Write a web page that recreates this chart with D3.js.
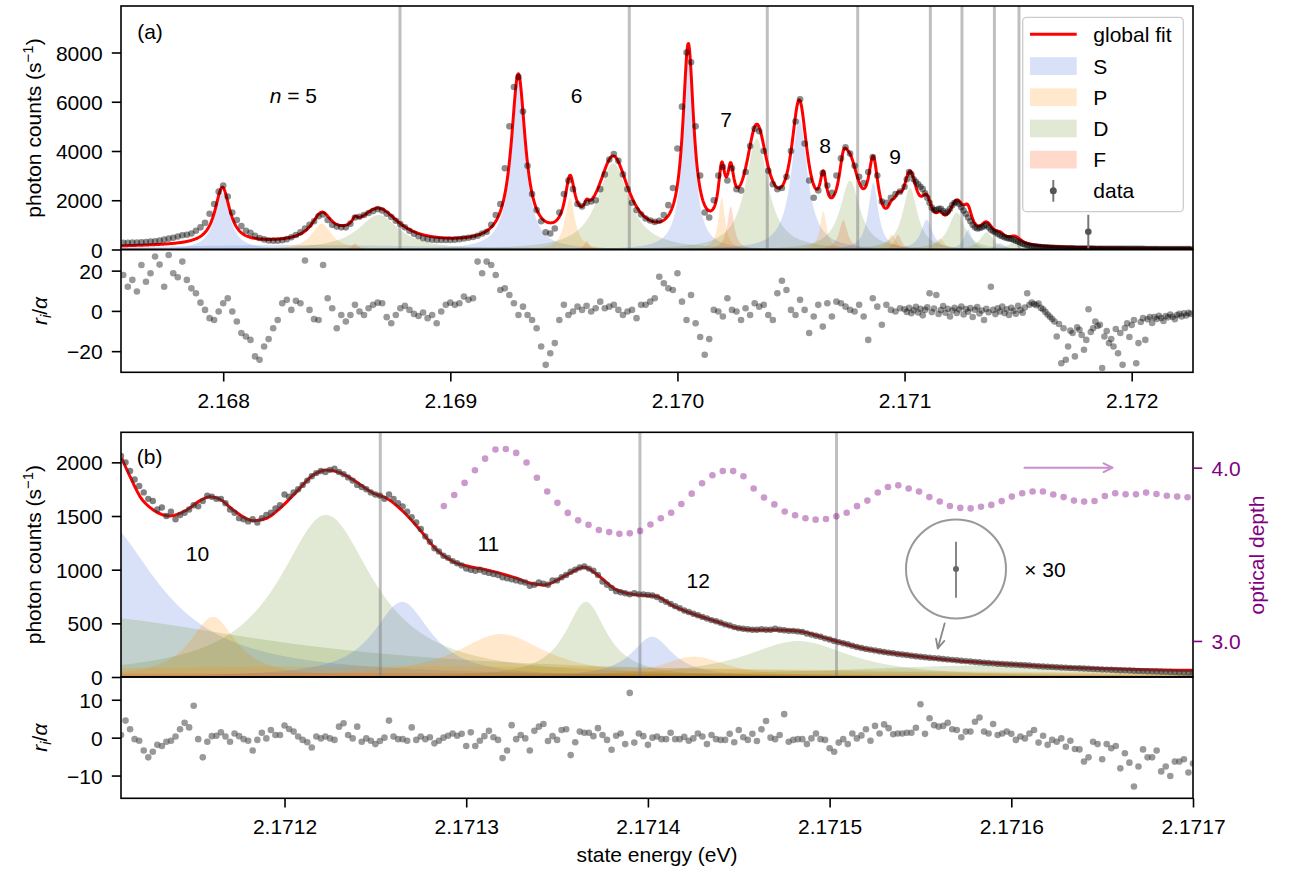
<!DOCTYPE html>
<html>
<head>
<meta charset="utf-8">
<script src="https://cdn.jsdelivr.net/npm/d3@7"></script>
<style>
body { margin: 0; background: #fff; }
</style>
</head>
<body>
<div id="chart"></div>
<script>
// ---------- panel (a): fitted peak components ----------
var compA_type = ["S","S","P","F","D", "S","P","F","D", "S","P","F","D", "S","P","F","D",
                  "S","P","F","D", "S","P","D", "S","D", "S","D"];
var compA_E = [2.1679963, 2.1683381, 2.1684337, 2.1685803, 2.1686838,
               2.1692993, 2.1695269, 2.1696005, 2.1697176,
               2.1700478, 2.1701949, 2.1702345, 2.1703490,
               2.1705366, 2.1706422, 2.1707303, 2.1707598,
               2.1708624, 2.1709434, 2.1709712, 2.1710240,
               2.1710975, 2.1711561, 2.1712296,
               2.1712793, 2.1713617,
               2.1714203, 2.1714863];
var compA_h = [2300, 180, 1050, 250, 1400,
               6800, 2100, 350, 3500,
               7800, 2100, 1750, 4500,
               5300, 1550, 1200, 2800,
               2700, 600, 600, 2500,
               1200, 450, 1500,
               800, 700,
               250, 300];
var compA_w = [3.963e-5, 8.806e-4, 5.284e-5, 1.541e-5, 1.1008e-4,
               3.743e-5, 2.642e-5, 1.321e-5, 8.366e-5,
               2.862e-5, 1.761e-5, 1.761e-5, 5.944e-5,
               4.315e-5, 1.761e-5, 2.201e-5, 5.284e-5,
               2.642e-5, 2.201e-5, 1.761e-5, 3.963e-5,
               3.082e-5, 2.201e-5, 4.403e-5,
               2.201e-5, 3.522e-5,
               2.642e-5, 3.522e-5];

// series limits (grey vertical lines)
var limitsE = [2.1687784, 2.169788, 2.1703956, 2.1707937, 2.1711136, 2.1712527, 2.1713956, 2.1715038];

// ---------- panel (a): measured data ----------
var dataA_E = [
 2.16756,2.16758,2.1676,2.16762,2.16764,2.16766,2.16768,2.1677,2.16772,2.16774,
 2.16776,2.16778,2.1678,2.16782,2.16784,2.16786,2.16788,2.1679,2.16792,2.16794,
 2.16796,2.16798,2.168,2.16802,2.16804,2.16806,2.16808,2.1681,2.16812,2.16814,
 2.16816,2.16818,2.1682,2.16822,2.16824,2.16826,2.16828,2.1683,2.16832,2.16834,
 2.16836,2.16838,2.1684,2.16842,2.16844,2.16846,2.16848,2.1685,2.16852,2.16854,
 2.16856,2.16858,2.1686,2.16862,2.16864,2.16866,2.16868,2.1687,2.16872,2.16874,
 2.16876,2.16878,2.1688,2.16882,2.16884,2.16886,2.16888,2.1689,2.16892,2.16894,
 2.16896,2.16898,2.169,2.16902,2.16904,2.16906,2.16908,2.1691,2.16912,2.16914,
 2.16916,2.16918,2.1692,2.16922,2.16924,2.16926,2.16928,2.1693,2.16932,2.16934,
 2.16936,2.16938,2.1694,2.16942,2.16944,2.16946,2.16948,2.1695,2.16952,2.16954,
 2.16956,2.16958,2.1696,2.16962,2.16964,2.16966,2.16968,2.1697,2.16972,2.16974,
 2.16976,2.16978,2.1698,2.16982,2.16984,2.16986,2.16988,2.1699,2.16992,2.16994,
 2.16996,2.16998,2.17,2.17002,2.17004,2.17006,2.17008,2.1701,2.17012,2.17014,
 2.17016,2.17018,2.1702,2.17022,2.17024,2.17026,2.17028,2.1703,2.17032,2.17034,
 2.17036,2.17038,2.1704,2.17042,2.17044,2.17046,2.17048,2.1705,2.17052,2.17054,
 2.17056,2.17058,2.1706,2.17062,2.17064,2.17066,2.17068,2.1707,2.17072,2.17074,
 2.17076,2.17078,2.1708,2.17082,2.17084,2.17086,2.17088,2.1709,2.17092,2.17094,
 2.17096,2.17098,
 2.171,2.17101,2.17102,2.17103,2.17104,2.17105,2.17106,2.17107,2.17108,2.17109,
 2.1711,2.17111,2.17112,2.17113,2.17114,2.17115,2.17116,2.17117,2.17118,2.17119,
 2.1712,2.17121,2.17122,2.17123,2.17124,2.17125,2.17126,2.17127,2.17128,2.17129,
 2.1713,2.17131,2.17132,2.17133,2.17134,2.17135,2.17136,2.17137,2.17138,2.17139,
 2.1714,2.17141,2.17142,2.17143,2.17144,2.17145,2.17146,2.17147,2.17148,2.17149,
 2.1715,2.17151,2.17152,2.17153,2.17154,2.17155,2.17156,2.17157,2.17158,2.17159,
 2.1716,2.17161,2.17162,2.17163,2.17164,2.17165,2.17166,2.17167,2.17168,2.17169,
 2.1717,2.17171,2.17172,2.17173,2.17174,2.17175,2.17176,2.17177,2.17178,2.17179,
 2.1718,2.17181,2.17182,2.17183,2.17184,2.17185,2.17186,2.17187,2.17188,2.17189,
 2.1719,2.17191,2.17192,2.17193,2.17194,2.17195,2.17196,2.17197,2.17198,2.17199,
 2.172,2.17201,2.17202,2.17203,2.17204,2.17205,2.17206,2.17207,2.17208,2.17209,
 2.1721,2.17211,2.17212,2.17213,2.17214,2.17215,2.17216,2.17217,2.17218,2.17219,
 2.1722,2.17221,2.17222,2.17223,2.17224,2.17225,2.17226];
var dataA_counts = [
 270,275,280,285,295,305,320,335,360,400,
 440,480,530,580,600,650,760,900,1080,1450,
 1850,2350,2600,2150,1500,1200,950,760,680,560,
 470,410,370,360,360,380,420,500,590,700,
 850,1000,1150,1350,1420,1200,1000,930,900,900,
 1050,1300,1330,1400,1480,1560,1640,1580,1450,1320,
 1170,1030,900,760,640,540,460,420,400,390,
 385,385,390,400,420,450,480,510,560,650,
 720,1000,1400,1850,3300,5000,6600,7000,5600,3400,
 2250,1600,1150,700,650,850,1500,2250,2800,2450,
 1850,1750,1900,1950,2000,2450,3050,3650,3880,3600,
 3050,2450,1900,1600,1420,1260,1180,1120,1170,1400,
 1800,2500,4100,5800,8000,7600,5000,3000,1500,1300,
 2000,3000,3350,2800,3300,2450,2400,3150,4200,4900,
 4800,4000,3200,2650,2450,2500,2950,4000,5200,6100,
 4300,2800,2100,2400,3100,2600,2300,3000,3700,4150,
 3900,3400,2950,2700,3150,3750,3000,1950,1900,2100,
 2250,2350,
 2550,2850,3150,3050,2850,2750,2650,2550,2450,2280,
 2100,1900,1700,1600,1600,1650,1650,1560,1480,1540,
 1650,1800,1900,1930,1850,1720,1580,1450,1300,1150,
 1000,900,850,870,900,950,990,900,800,740,
 700,640,580,540,500,470,450,425,400,360,
 320,275,230,200,170,155,140,128,115,108,
 100,92,85,80,75,70,66,62,58,55,
 52,50,48,46,44,42,40,39,38,37,
 36,35,35,34,33,33,32,32,31,31,
 30,30,29,29,28,28,27,27,26,26,
 25,25,25,24,24,24,23,23,23,22,
 22,22,22,21,21,21,21,20,20,20,
 20,20,19,19,19,19,18];
var residA = [
 17.8,12,15.4,9.6,22.8,14.5,18.7,27,23,12,
 27.8,18.7,16.7,24.5,15.4,11.2,8.8,4.1,0.5,-3.6,
 -4.5,-0.3,3.8,6.3,-0.3,-5.3,-11,-12.7,-14.4,-22.6,
 -24.3,-17.7,-14,-8.6,-4.5,3.8,5.5,0.5,5,3.8,
 25,0.5,-4.1,-4.5,22.8,6.3,1.3,-8.6,-2,-5.3,
 -2,3,-0.3,-2,1.3,3,4.1,3.8,-3.1,-6.1,
 -2,1.3,2.5,0.5,-1.5,-2.5,-0.8,-3.6,-2,-6.1,
 -0.3,3,4.1,3,3.8,7.1,5.5,6.3,24.5,18.7,
 24.5,22.8,17.8,10.4,11.2,7.9,3.8,-2,2.1,-2,
 -4.5,-8.6,-17.7,-26.8,-21,-16,-4.5,3,-2,-0.3,
 2.1,0.5,2.5,-0.3,1.3,4.6,1.3,2.1,3,0.5,
 -2,-0.3,0.5,-3.6,3,3,4.6,6.3,17,13.7,
 11.2,10.4,18.7,4.6,-4.5,7.9,-6.1,-13,-21.8,-14,
 0.5,-0.3,-2.8,6.3,0.5,-0.3,-4.5,1.3,-2,3.8,
 2.1,3,-2,-4.5,8.8,15,10.4,0.5,-2,5.5,
 0.5,-11,-2.8,3,-7.8,3.8,-2.8,4.6,3.8,2.1,
 0.5,-0.3,3,-2.8,-14.4,6.3,2.1,-6.9,3,0.5,
 -0.3,1.3,
 0.8,-0.5,1.5,-1.2,0.3,2.0,-0.8,1.0,-2.2,0.5,
 1.8,8.8,-0.6,1.2,7.9,-1.5,0.4,2.4,-0.9,1.1,
 -2.8,0.2,1.6,-1.0,0.7,2.2,-1.8,0.9,-0.4,1.4,
 -3.0,0.6,1.9,-1.3,0.2,-4.5,1.0,-0.7,12.0,0.5,
 -1.6,1.3,-0.3,2.1,-1.1,0.8,-2.0,1.5,0.1,-1.4,
 2.5,0.4,-0.9,1.7,8.8,3.0,4.2,3.4,2.8,3.6,
 1.5,0.8,-0.5,-1.8,-2.9,-4.0,-5.3,-12.7,-6.5,-26,
 -8.6,-24.3,-17.7,-9.8,-11,-22.6,-8.2,-9.4,-12,-19.3,
 -14.4,0.8,-10.5,-8.6,-5.3,-7.5,-6.9,-28.4,-12.7,-10,
 -16,-14,-17.7,-9,-21,-11,-26.8,-8.5,-6.1,-13,
 -7,-4.5,-26,-16,-5.5,-3.6,-14.4,-4.2,-3.0,-6.0,
 -3.1,-4.0,-2.4,-3.5,-5.0,-2.5,-3.2,-1.8,-2.9,-4.1,
 -2.0,-1.5,-2.8,-1.2,-2.3,-1.0,-1.5];
// one point drawn with its (large) error bar
var flagE = [2.171809], flagCounts = [720], flagErr = [690];

// ---------- panel (b): fitted components (fills) ----------
var compB_type = ["S","D","P","D","S","P","D","S","P","D","D","P","F"];
var compB_E = [2.1710973, 2.1710764, 2.1711606, 2.1712228, 2.1712647, 2.1713191,
               2.1713659, 2.1714023, 2.1714254, 2.1714826, 2.1715938, 2.1712636, 2.1712636];
var compB_h = [1490, 580, 560, 1510, 700, 400, 700, 375, 190, 335, 110, 100, 35];
var compB_w = [3.963e-5, 1.3759e-4, 1.541e-5, 3.192e-5, 1.926e-5, 3.027e-5,
               1.376e-5, 1.376e-5, 2.201e-5, 3.577e-5, 1.1008e-4, 3.302e-4, 4.403e-4];

// panel (b): global fit curve
var fitB_E = [2.1711104,2.171115,2.1711205,2.1711278,2.171137,2.1711462,2.1711535,2.171159,2.1711645,2.1711718,
              2.1711828,2.1711902,2.1711975,2.1712067,2.1712158,2.1712232,2.1712305,2.1712379,2.1712489,2.1712562,
              2.1712654,2.1712746,2.1712838,2.1712929,2.1713021,2.1713113,2.1713278,2.1713339,2.1713431,2.1713545,
              2.1713648,2.1713728,2.1713819,2.1713911,2.1714048,2.1714138,2.1714254,2.1714368,2.1714483,2.1714597,
              2.171471,2.1714826,2.171494,2.1715054,2.1715169,2.1715329,2.1715558,2.1715786,2.1716015,2.1716244,
              2.1716472,2.1716701,2.1716976,2.1717];
var fitB_counts = [2038,1866,1680,1556,1500,1556,1643,1680,1656,1556,
                   1456,1479,1572,1727,1882,1929,1904,1836,1712,1665,
                   1540,1370,1183,1074,1028,997,920,881,857,944,
                   1022,944,819,772,750,663,585,522,459,438,
                   438,428,381,325,272,225,178,141,116,94,
                   79,69,63,62];

// ---------- panel (b): measured data ----------
var dataB_E = [
 2.17111,2.1711125,2.171115,2.1711175, 2.17112,2.1711225,2.171125,2.1711275,
 2.17113,2.1711325,2.171135,2.1711375, 2.17114,2.1711425,2.171145,2.1711475,
 2.17115,2.1711525,2.171155,2.1711575, 2.17116,2.1711625,2.171165,2.1711675,
 2.17117,2.1711725,2.171175,2.1711775, 2.17118,2.1711825,2.171185,2.1711875,
 2.17119,2.1711925,2.171195,2.1711975, 2.1712,2.1712025,2.171205,2.1712075,
 2.17121,2.1712125,2.171215,2.1712175, 2.17122,2.1712225,2.171225,2.1712275,
 2.17123,2.1712325,2.171235,2.1712375, 2.17124,2.1712425,2.171245,2.1712475,
 2.17125,2.1712525,2.171255,2.1712575, 2.17126,2.1712625,2.171265,2.1712675,
 2.17127,2.1712725,2.171275,2.1712775, 2.17128,2.1712825,2.171285,2.1712875,
 2.17129,2.1712925,2.171295,2.1712975, 2.1713,2.1713025,2.171305,2.1713075,
 2.17131,2.1713125,2.171315,2.1713175, 2.17132,2.1713225,2.171325,2.1713275,
 2.17133,2.1713325,2.171335,2.1713375, 2.17134,2.1713425,2.171345,2.1713475,
 2.17135,2.1713525,2.171355,2.1713575, 2.17136,2.1713625,2.171365,2.1713675,
 2.17137,2.1713725,2.171375,2.1713775, 2.17138,2.1713825,2.171385,2.1713875,
 2.17139,2.1713925,2.171395,2.1713975, 2.1714,2.1714025,2.171405,2.1714075,
 2.17141,2.1714125,2.171415,2.1714175, 2.17142,2.1714225,2.171425,2.1714275,
 2.17143,2.1714325,2.171435,2.1714375, 2.17144,2.1714425,2.171445,2.1714475,
 2.17145,2.1714525,2.171455,2.1714575, 2.17146,2.1714625,2.171465,2.1714675,
 2.17147,2.1714725,2.171475,2.1714775, 2.17148,2.1714825,2.171485,2.1714875,
 2.17149,2.1714925,2.171495,2.1714975, 2.1715,2.1715025,2.171505,2.1715075,
 2.17151,2.1715125,2.171515,2.1715175, 2.17152,2.1715225,2.171525,2.1715275,
 2.17153,2.1715325,2.171535,2.1715375, 2.17154,2.1715425,2.171545,2.1715475,
 2.17155,2.1715525,2.171555,2.1715575, 2.17156,2.1715625,2.171565,2.1715675,
 2.17157,2.1715725,2.171575,2.1715775, 2.17158,2.1715825,2.171585,2.1715875,
 2.17159,2.1715925,2.171595,2.1715975, 2.1716,2.1716025,2.171605,2.1716075,
 2.17161,2.1716125,2.171615,2.1716175, 2.17162,2.1716225,2.171625,2.1716275,
 2.17163,2.1716325,2.171635,2.1716375, 2.17164,2.1716425,2.171645,2.1716475,
 2.17165,2.1716525,2.171655,2.1716575, 2.17166,2.1716625,2.171665,2.1716675,
 2.17167,2.1716725,2.171675,2.1716775, 2.17168,2.1716825,2.171685,2.1716875,
 2.17169,2.1716925,2.171695,2.1716975, 2.1717];
var dataB_counts = [
 2060,2000,1920,1840,1780,1720,1660,1640,1560,1580,
 1500,1540,1470,1510,1530,1560,1600,1590,1640,1690,
 1680,1660,1660,1620,1560,1530,1480,1470,1450,1470,
 1440,1480,1510,1530,1570,1600,1700,1680,1720,1750,
 1790,1830,1870,1900,1920,1910,1930,1940,1910,1890,
 1860,1830,1790,1770,1750,1720,1700,1690,1660,1700,
 1660,1620,1590,1540,1490,1440,1380,1310,1260,1200,
 1170,1130,1110,1080,1060,1040,1010,1000,990,1000,
 980,970,960,950,930,920,910,900,890,880,
 850,860,880,870,860,900,900,930,950,980,
 1000,1020,1030,1010,990,950,890,860,830,800,
 790,780,770,780,770,770,765,760,745,720,
 700,680,660,640,620,605,590,575,560,545,
 530,520,505,490,480,465,455,450,445,440,
 440,445,440,440,450,440,435,430,430,425,
 420,405,395,385,375,360,350,335,325,315,
 305,292,280,270,262,255,248,240,233,227,
 222,215,210,205,199,194,189,184,180,176,
 172,168,164,160,156,152,148,144,140,137,
 133,130,127,124,122,119,117,115,112,110,
 107,104,101,98,96,94,92,89,87,85,
 83,81,79,77,75,73,71,69,67,65,
 63,62,60,58,57,55,54,52,51,49,
 48,46,45,43,42,40,39];
var residB = [
 0.7,4.5,2.2,-0.4,-0.8,-3.4,-5.2,-3.7,-1.9,-2.2,
 -1.1,-0.8,0.3,2.2,3.9,2.7,8.4,-0.4,-5.2,-1.1,
 0.4,0.5,1.4,0.3,-1.1,1.1,0.4,-0.4,-0.8,-3.4,
 -0.6,1.3,-0.2,2,0.7,0.7,3.2,2.3,1.6,0.3,
 -0.6,-1.2,-2.6,0.3,-0.2,0.3,-0.2,-0.6,2.9,3.8,
 0.7,-0.2,2.9,-1.1,-0.2,-0.8,-1.7,-0.9,0,4.5,
 0.3,-0.4,-0.4,-0.8,2.7,-0.6,0.3,-0.4,0.1,-1.5,
 -0.8,0,0.5,1.1,0.5,1,-2.2,1.4,-2.2,-0.8,
 0.4,1.8,0.1,-0.6,-5.4,-3.4,3.3,-0.4,0.7,-0.2,
 -3.4,1.8,2.9,3.6,-0.9,0.4,-0.6,2,2.2,-4.6,
 -1.2,1.6,1.3,1.3,0.4,2.5,0.7,-0.6,-3.2,0.5,
 1.1,-1.7,11.8,-1.3,1.1,0.4,-1.9,0,0.3,-0.4,
 -0.4,1.3,-0.4,-0.4,0.2,-0.8,-0.2,1.1,0.3,-1.7,
 0.7,-0.4,-0.6,-0.6,1,-1.2,2,0.1,-0.6,1,
 -0.9,2.2,4.4,0,-0.4,0.7,6.2,-1.1,-0.6,-0.4,
 -0.4,-1.7,-0.2,1.1,-0.4,-0.6,-2.8,-3.7,-1.3,-0.4,
 -1.7,1.1,-0.2,0.6,2.2,-0.8,3.1,1.1,3.5,2.5,
 0.9,1.1,1.1,1.3,1.3,2.6,8.8,1,5.1,3.3,
 2.9,3.1,3.9,2.2,2,0.1,1.6,1.6,4.2,5.3,
 1.6,1.1,3.6,0.7,1.1,1.6,1,-0.6,0.3,-0.2,
 1.1,2,-1.3,0.5,-1.9,-0.6,-1.1,-0.2,-2.4,-0.8,
 -3,-3.1,-6.3,-5.2,-1.1,-1.7,-5.7,-1.7,-2.8,-2.2,
 -8.1,-4.1,-6.6,-12.9,-7.6,-3.1,-5.2,-5.2,-3.4,-8.9,
 -7.6,-10.1,-6.3,-6.3,-5.7,-9.2,-6.8];

// optical depth (right axis)
var odE = [
 2.1712877,2.1712934,2.1712991,2.1713048,2.1713104,2.1713161,2.1713218,2.1713275,2.1713332,2.1713389,
 2.1713446,2.1713502,2.1713559,2.1713616,2.1713673,2.171373,2.1713787,2.1713843,2.17139,2.1713957,
 2.1714014,2.1714071,2.1714128,2.1714184,2.1714241,2.1714298,2.1714355,2.1714412,2.1714469,2.1714526,
 2.1714582,2.1714639,2.1714696,2.1714753,2.171481,2.1714867,2.1714923,2.171498,2.1715037,2.1715094,
 2.1715151,2.1715208,2.1715265,2.1715321,2.1715378,2.1715435,2.1715492,2.1715549,2.1715606,2.1715662,
 2.1715719,2.1715776,2.1715833,2.171589,2.1715947,2.1716003,2.171606,2.1716117,2.1716174,2.1716231,
 2.1716288,2.1716345,2.1716401,2.1716458,2.1716515,2.1716572,2.1716629,2.1716686,2.1716742,2.1716799,
 2.1716856,2.1716913,2.171697];
var odVal = [
 3.779,3.842,3.912,3.985,4.052,4.105,4.108,4.085,4.030,3.942,
 3.862,3.797,3.739,3.696,3.670,3.640,3.628,3.618,3.621,3.635,
 3.672,3.708,3.740,3.790,3.850,3.910,3.956,3.981,3.980,3.950,
 3.880,3.828,3.788,3.747,3.725,3.708,3.700,3.704,3.719,3.740,
 3.778,3.810,3.857,3.888,3.898,3.880,3.862,3.830,3.805,3.779,
 3.768,3.765,3.774,3.785,3.807,3.833,3.852,3.862,3.862,3.845,
 3.830,3.810,3.804,3.808,3.836,3.852,3.846,3.846,3.856,3.848,
 3.838,3.833,3.829];

// axis ticks
var ticksA_x = [2.168, 2.169, 2.170, 2.171, 2.172];
var ticksA_y = [0, 2000, 4000, 6000, 8000];
var ticksA_r = [-20, 0, 20];
var ticksB_x = [2.1712, 2.1713, 2.1714, 2.1715, 2.1716, 2.1717];
var ticksB_y = [0, 500, 1000, 1500, 2000];
var ticksB_r = [-10, 0, 10];
var ticksB_od = [3.0, 4.0];

var legendNames = ["S", "P", "D", "F"];

document.addEventListener("DOMContentLoaded", function() {
    var FONT = '"Liberation Sans", Arial, Helvetica, sans-serif';
    var FS = 21;
    var X0 = 121, X1 = 1193;
    var colours = { S: "#4169e1", P: "#ff8c00", D: "#6b8e23", F: "#ff4500" };
    var purple = "#800080";

    var svg = d3.select("#chart").append("svg")
        .attr("width", 1295).attr("height", 872)
        .style("font-family", FONT);
    svg.append("rect").attr("width", 1295).attr("height", 872).attr("fill", "#fff");

    var xA = d3.scaleLinear().domain([2.16755, 2.17227]).range([X0, X1]);
    var yA = d3.scaleLinear().domain([0, 9888]).range([249.5, 6]);
    var rA = d3.scaleLinear().domain([-30.5, 30.5]).range([372.3, 249.5]);
    var xB = d3.scaleLinear().domain([2.17111, 2.1717]).range([X0, X1]);
    var yB = d3.scaleLinear().domain([0, 2280]).range([677, 432.3]);
    var odB = d3.scaleLinear().domain([2.792, 4.204]).range([677, 432.3]);
    var rB = d3.scaleLinear().domain([-16, 16]).range([798.3, 677]);

    function lor(e, c, h, w) { var t = (e - c) / w; return h / (1 + t * t); }

    var defs = svg.append("defs");
    function clipped(id, y0, y1) {
        defs.append("clipPath").attr("id", id).append("rect")
            .attr("x", X0).attr("y", y0).attr("width", X1 - X0).attr("height", y1 - y0);
        return svg.append("g").attr("clip-path", "url(#" + id + ")");
    }
    var gA = clipped("cA", 6, 249.5),
        gRA = clipped("cRA", 249.5, 372.3),
        gB = clipped("cB", 432.3, 677),
        gRB = clipped("cRB", 677, 798.3);

    // filled peak components
    function drawComponents(g, x, y, types, cs, hs, ws) {
        var dom = x.domain(), step = (dom[1] - dom[0]) / (X1 - X0) / 2;
        var area = d3.area()
            .x(function(d) { return x(d[0]); })
            .y0(y(0))
            .y1(function(d) { return y(d[1]); });
        types.forEach(function(t, i) {
            var span = ws[i] * Math.sqrt(hs[i] / 2);
            var a = Math.max(dom[0], cs[i] - span), b = Math.min(dom[1], cs[i] + span);
            var pts = d3.range(a, b + step, step).map(function(e) {
                return [e, lor(e, cs[i], hs[i], ws[i])];
            });
            g.append("path").attr("d", area(pts))
                .attr("fill", colours[t]).attr("fill-opacity", 0.2);
        });
    }
    function fitPath(g, d) {
        g.append("path").attr("d", d)
            .attr("fill", "none").attr("stroke", "#ff0000").attr("stroke-width", 3)
            .attr("stroke-linejoin", "round");
    }
    // panel (a) global fit = sum of all components
    function drawFitSum(g, x, y, cs, hs, ws) {
        var dom = x.domain(), step = (dom[1] - dom[0]) / (X1 - X0) / 2;
        var pts = d3.range(dom[0], dom[1] + step, step).map(function(e) {
            return [e, d3.sum(cs, function(c, i) { return lor(e, c, hs[i], ws[i]); })];
        });
        fitPath(g, d3.line().x(function(d) { return x(d[0]); }).y(function(d) { return y(d[1]); })(pts));
    }
    function drawLimits(g, x, y0, y1) {
        limitsE.forEach(function(e) {
            if (x(e) < X0 + 12 || x(e) > X1 - 4) return;
            g.append("line").attr("x1", x(e)).attr("x2", x(e)).attr("y1", y0).attr("y2", y1)
                .attr("stroke", "#808080").attr("stroke-opacity", 0.5).attr("stroke-width", 3);
        });
    }
    function dots(g, xs, ys, x, y, r, col, op) {
        g.selectAll(null).data(xs).enter().append("circle")
            .attr("cx", function(d) { return x(d); })
            .attr("cy", function(d, i) { return y(ys[i]); })
            .attr("r", r).attr("fill", col).attr("fill-opacity", op);
    }

    // ---- panel (a)
    drawComponents(gA, xA, yA, compA_type, compA_E, compA_h, compA_w);
    drawLimits(gA, xA, 6, 249.5);
    drawFitSum(gA, xA, yA, compA_E, compA_h, compA_w);
    dots(gA, dataA_E, dataA_counts, xA, yA, 3.3, "#000", 0.45);
    flagE.forEach(function(e, i) {
        gA.append("line").attr("x1", xA(e)).attr("x2", xA(e))
            .attr("y1", yA(flagCounts[i] - flagErr[i])).attr("y2", yA(flagCounts[i] + flagErr[i]))
            .attr("stroke", "#777").attr("stroke-width", 2);
        gA.append("circle").attr("cx", xA(e)).attr("cy", yA(flagCounts[i])).attr("r", 3.3)
            .attr("fill", "#555");
    });
    dots(gRA, dataA_E, residA, xA, rA, 3.3, "#000", 0.4);

    // ---- panel (b)
    drawComponents(gB, xB, yB, compB_type, compB_E, compB_h, compB_w);
    drawLimits(gB, xB, 432.3, 677);
    fitPath(gB, d3.line().curve(d3.curveMonotoneX)
        .x(function(d) { return xB(d); })
        .y(function(d, i) { return yB(fitB_counts[i]); })(fitB_E));
    dots(gB, dataB_E, dataB_counts, xB, yB, 3.2, "#333", 0.62);
    dots(gB, odE, odVal, xB, odB, 3.3, purple, 0.4);
    dots(gRB, dataB_E, residB, xB, rB, 3.3, "#555", 0.6);

    // ---- frames
    [[6, 249.5], [249.5, 372.3], [432.3, 677], [677, 798.3]].forEach(function(p) {
        svg.append("rect").attr("x", X0).attr("y", p[0]).attr("width", X1 - X0).attr("height", p[1] - p[0])
            .attr("fill", "none").attr("stroke", "#000").attr("stroke-width", 1.6);
    });

    // ---- axes
    function styleAxis(g, col) {
        g.select(".domain").remove();
        g.attr("font-family", FONT).attr("font-size", FS);
        g.selectAll(".tick line").attr("stroke", col || "#000").attr("stroke-width", 1.6);
        g.selectAll(".tick text").attr("fill", col || "#000");
    }
    function leftAxis(scale, ticks, fmt) {
        var g = svg.append("g").attr("transform", "translate(" + X0 + ",0)")
            .call(d3.axisLeft(scale).tickValues(ticks).tickFormat(fmt).tickSize(9.2).tickPadding(9.2));
        styleAxis(g);
        g.selectAll(".tick text").attr("dy", "0.36em");
    }
    function bottomAxis(scale, y, ticks, fmt) {
        var g = svg.append("g").attr("transform", "translate(0," + y + ")")
            .call(d3.axisBottom(scale).tickValues(ticks).tickFormat(fmt).tickSize(9.2).tickPadding(9.2));
        styleAxis(g);
        g.selectAll(".tick text").attr("dy", "0.81em");
    }
    leftAxis(yA, ticksA_y, d3.format("d"));
    leftAxis(rA, ticksA_r, d3.format("d"));
    leftAxis(yB, ticksB_y, d3.format("d"));
    leftAxis(rB, ticksB_r, d3.format("d"));
    bottomAxis(xA, 372.3, ticksA_x, d3.format(".3f"));
    bottomAxis(xB, 798.3, ticksB_x, d3.format(".4f"));
    var gOD = svg.append("g").attr("transform", "translate(" + X1 + ",0)")
        .call(d3.axisRight(odB).tickValues(ticksB_od).tickFormat(d3.format(".1f")).tickSize(9.2).tickPadding(9.2));
    styleAxis(gOD, purple);
    gOD.selectAll(".tick text").attr("dy", "0.36em");

    // ---- axis titles
    function countsLabel(cy) {
        var t = svg.append("text").attr("transform", "translate(41," + cy + ") rotate(-90)")
            .attr("text-anchor", "middle").attr("font-size", FS);
        t.append("tspan").text("photon counts (s");
        t.append("tspan").attr("dy", -8).attr("font-size", 15).text("\u22121");
        t.append("tspan").attr("dy", 8).text(")");
    }
    function residLabel(cy) {
        var t = svg.append("text").attr("transform", "translate(47," + cy + ") rotate(-90)")
            .attr("text-anchor", "middle").attr("font-size", FS);
        t.append("tspan").attr("font-style", "italic").text("r");
        t.append("tspan").attr("font-style", "italic").attr("font-size", 15).attr("dy", 4).text("i");
        t.append("tspan").attr("dy", -4).text("/");
        t.append("tspan").attr("font-style", "italic").text("\u03b1");
    }
    countsLabel(128);
    countsLabel(554.6);
    residLabel(311);
    residLabel(737.7);
    svg.append("text").attr("x", 657).attr("y", 862).attr("text-anchor", "middle")
        .attr("font-size", FS).text("state energy (eV)");
    svg.append("text").attr("transform", "translate(1263.5,555) rotate(-90)")
        .attr("text-anchor", "middle").attr("font-size", FS).attr("fill", purple).text("optical depth");

    // ---- annotations
    function label(x, y, s) {
        return svg.append("text").attr("x", x).attr("y", y + 7.5).attr("text-anchor", "middle")
            .attr("font-size", FS).text(s);
    }
    label(150, 31.7, "(a)");
    var n5 = svg.append("text").attr("x", 293.3).attr("y", 102.5).attr("text-anchor", "middle").attr("font-size", FS);
    n5.append("tspan").attr("font-style", "italic").text("n");
    n5.append("tspan").text(" = 5");
    label(576.7, 95, "6");
    label(726, 119.3, "7");
    label(825, 145, "8");
    label(895, 156.7, "9");
    label(149.6, 456.7, "(b)");
    label(197.4, 553.3, "10");
    label(488.4, 543.3, "11");
    label(698.2, 580, "12");
    label(1045, 569, "\u00d7 30");

    function arrow(x1, y1, x2, y2, col, w) {
        var a = Math.atan2(y2 - y1, x2 - x1), L = 10, s = 0.45;
        var p = "M" + x1 + "," + y1 + "L" + x2 + "," + y2 +
            "M" + (x2 - L * Math.cos(a - s)) + "," + (y2 - L * Math.sin(a - s)) +
            "L" + x2 + "," + y2 +
            "L" + (x2 - L * Math.cos(a + s)) + "," + (y2 - L * Math.sin(a + s));
        svg.append("path").attr("d", p).attr("fill", "none").attr("stroke", col)
            .attr("stroke-width", w).attr("stroke-linecap", "round").attr("stroke-linejoin", "round");
    }
    arrow(1024.5, 467.7, 1112.6, 467.7, "#c98fce", 2);

    // magnified error bar inset
    svg.append("ellipse").attr("cx", 956).attr("cy", 569).attr("rx", 50).attr("ry", 49.5)
        .attr("fill", "none").attr("stroke", "#999").attr("stroke-width", 2);
    svg.append("line").attr("x1", 956).attr("x2", 956).attr("y1", 541.7).attr("y2", 597.7)
        .attr("stroke", "#888").attr("stroke-width", 2);
    svg.append("circle").attr("cx", 956).attr("cy", 569).attr("r", 3).attr("fill", "#666");
    arrow(944.7, 623.3, 937.8, 648.5, "#888", 1.8);

    // ---- legend
    var lg = svg.append("g");
    lg.append("rect").attr("x", 1022.7).attr("y", 17.3).attr("width", 160.6).attr("height", 194.4)
        .attr("rx", 4).attr("fill", "#fff").attr("fill-opacity", 0.8)
        .attr("stroke", "#cccccc").attr("stroke-width", 1.3);
    lg.append("line").attr("x1", 1030).attr("x2", 1076.7).attr("y1", 34.3).attr("y2", 34.3)
        .attr("stroke", "#ff0000").attr("stroke-width", 3);
    lg.append("text").attr("x", 1093.3).attr("y", 41.8).attr("font-size", FS).text("global fit");
    legendNames.forEach(function(n, i) {
        var cy = 66 + i * 31.2;
        lg.append("rect").attr("x", 1030).attr("y", cy - 8.8).attr("width", 46.7).attr("height", 17.7)
            .attr("fill", colours[n]).attr("fill-opacity", 0.2);
        lg.append("text").attr("x", 1093.3).attr("y", cy + 7.5).attr("font-size", FS).text(n);
    });
    lg.append("line").attr("x1", 1053.3).attr("x2", 1053.3).attr("y1", 180).attr("y2", 201.7)
        .attr("stroke", "#777").attr("stroke-width", 2);
    lg.append("circle").attr("cx", 1053.3).attr("cy", 190.7).attr("r", 3.5).attr("fill", "#555");
    lg.append("text").attr("x", 1093.3).attr("y", 198.2).attr("font-size", FS).text("data");
});
</script>
</body>
</html>
